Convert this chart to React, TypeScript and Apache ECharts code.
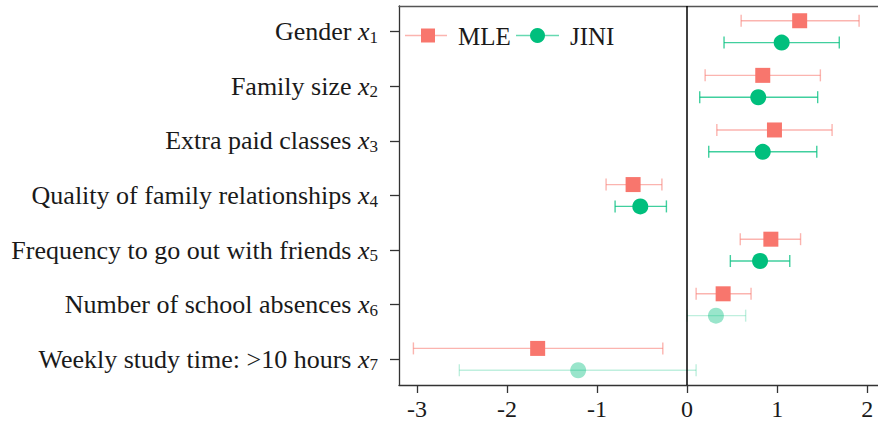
import React, { useEffect, useRef } from "react";
import * as echarts from "echarts";

const categories = [
  "Gender",
  "Family size",
  "Extra paid classes",
  "Quality of family relationships",
  "Frequency to go out with friends",
  "Number of school absences",
  "Weekly study time: >10 hours",
];
const mleEst = [1.25, 0.84, 0.97, -0.6, 0.93, 0.4, -1.66];
const mleLo = [0.6, 0.2, 0.33, -0.9, 0.59, 0.1, -3.04];
const mleHi = [1.91, 1.48, 1.61, -0.28, 1.26, 0.71, -0.27];
const jiniEst = [1.05, 0.79, 0.84, -0.52, 0.81, 0.32, -1.21];
const jiniLo = [0.41, 0.14, 0.24, -0.8, 0.48, 0.0, -2.53];
const jiniHi = [1.69, 1.45, 1.44, -0.23, 1.14, 0.65, 0.1];
const jiniSignificant = [true, true, true, true, true, false, false];
const xTicks = [-3, -2, -1, 0, 1, 2];

const RED = "#F8766D";
const GREEN = "#00BF7D";
const FONT = "Liberation Serif";

export default function App() {
  const ref = useRef<HTMLDivElement>(null);
  useEffect(() => {
    if (!ref.current) return;
    const chart = echarts.init(ref.current, null, { renderer: "svg" });
    const pos = categories.map((_, i) => i + 1);
    const off = 0.2;

    const mleBars = pos.map((p, i) => [mleLo[i], mleHi[i], p - off, 0.55]);
    const jiniBars = pos.map((p, i) => [jiniLo[i], jiniHi[i], p + off, jiniSignificant[i] ? 0.75 : 0.25]);

    const renderBar = (color: string) => (params: any, api: any) => {
      const a = api.coord([api.value(0), api.value(2)]);
      const b = api.coord([api.value(1), api.value(2)]);
      const op = api.value(3);
      const h = 6;
      const style = { stroke: color, lineWidth: 1.4, opacity: op };
      return {
        type: "group",
        children: [
          { type: "line", shape: { x1: a[0], y1: a[1], x2: b[0], y2: b[1] }, style },
          { type: "line", shape: { x1: a[0], y1: a[1] - h, x2: a[0], y2: a[1] + h }, style },
          { type: "line", shape: { x1: b[0], y1: b[1] - h, x2: b[0], y2: b[1] + h }, style },
        ],
      };
    };

    const option: any = {
      animation: false,
      textStyle: { fontFamily: FONT },
      grid: { left: 399, right: 0, top: 6, bottom: 38, containLabel: false },
      xAxis: [
        {
          type: "value",
          min: -3.2,
          max: 2.12,
          splitLine: { show: false },
          axisLine: { show: true, onZero: false, lineStyle: { color: "#333", width: 1.3 } },
          axisTick: { show: true, customValues: xTicks, length: 8, lineStyle: { color: "#333", width: 1.3 } },
          axisLabel: {
            customValues: xTicks,
            fontSize: 24,
            color: "#1a1a1a",
            fontFamily: FONT,
            margin: 12,
          },
        },
        {
          type: "value",
          position: "top",
          min: -3.2,
          max: 2.12,
          splitLine: { show: false },
          axisLine: { show: true, onZero: false, lineStyle: { color: "#555", width: 1.3 } },
          axisTick: { show: false },
          axisLabel: { show: false },
        },
      ],
      yAxis: {
        type: "value",
        inverse: true,
        min: 0.53,
        max: 7.47,
        splitLine: { show: false },
        axisLine: { show: true, onZero: false, lineStyle: { color: "#333", width: 1.3 } },
        axisTick: { show: true, customValues: pos, length: 9, lineStyle: { color: "#333", width: 1.3 } },
        axisLabel: {
          customValues: pos,
          margin: 21,
          color: "#1a1a1a",
          fontFamily: FONT,
          fontSize: 26,
          formatter: (v: number) => `${categories[Math.round(v) - 1]} {i|x}{s|${Math.round(v)}}`,
          rich: {
            i: { fontStyle: "italic", fontSize: 26, fontFamily: FONT, color: "#1a1a1a" },
            s: { fontSize: 17, fontFamily: FONT, color: "#1a1a1a", padding: [11, 0, 0, 0] },
          },
        },
      },
      series: [
        {
          type: "custom",
          name: "MLE bars",
          renderItem: renderBar(RED),
          encode: { x: [0, 1], y: 2 },
          data: mleBars,
          z: 2,
        },
        {
          type: "custom",
          name: "JINI bars",
          renderItem: renderBar(GREEN),
          encode: { x: [0, 1], y: 2 },
          data: jiniBars,
          z: 2,
        },
        {
          type: "scatter",
          name: "MLE",
          symbol: "rect",
          symbolSize: 15,
          itemStyle: { color: RED, opacity: 1 },
          data: pos.map((p, i) => [mleEst[i], p - off]),
          z: 3,
          markLine: {
            silent: true,
            symbol: "none",
            label: { show: false },
            lineStyle: { color: "#000", width: 1.5, type: "solid" },
            data: [{ xAxis: 0 }],
          },
        },
        {
          type: "scatter",
          name: "JINI",
          symbol: "circle",
          symbolSize: 16,
          data: pos.map((p, i) => ({
            value: [jiniEst[i], p + off],
            itemStyle: { color: GREEN, opacity: jiniSignificant[i] ? 1 : 0.4 },
          })),
          z: 3,
        },
      ],
      graphic: [
        { type: "line", shape: { x1: 405, y1: 35.5, x2: 447, y2: 35.5 }, style: { stroke: RED, lineWidth: 1.6, opacity: 0.55 } },
        { type: "rect", shape: { x: 421, y: 28.5, width: 14, height: 14 }, style: { fill: RED } },
        { type: "text", x: 458, y: 36, style: { text: "MLE", font: `25px "${FONT}"`, fill: "#1a1a1a", verticalAlign: "middle" } },
        { type: "line", shape: { x1: 516, y1: 35.5, x2: 559, y2: 35.5 }, style: { stroke: GREEN, lineWidth: 1.6, opacity: 0.6 } },
        { type: "circle", shape: { cx: 537.5, cy: 35.5, r: 7.5 }, style: { fill: GREEN } },
        { type: "text", x: 570, y: 36, style: { text: "JINI", font: `25px "${FONT}"`, fill: "#1a1a1a", verticalAlign: "middle" } },
      ],
    };
    chart.setOption(option);
    return () => chart.dispose();
  }, []);
  return (
    <div
      ref={ref}
      style={{ position: "fixed", left: 0, top: 0, width: 878, height: 423, background: "#fff" }}
    />
  );
}
